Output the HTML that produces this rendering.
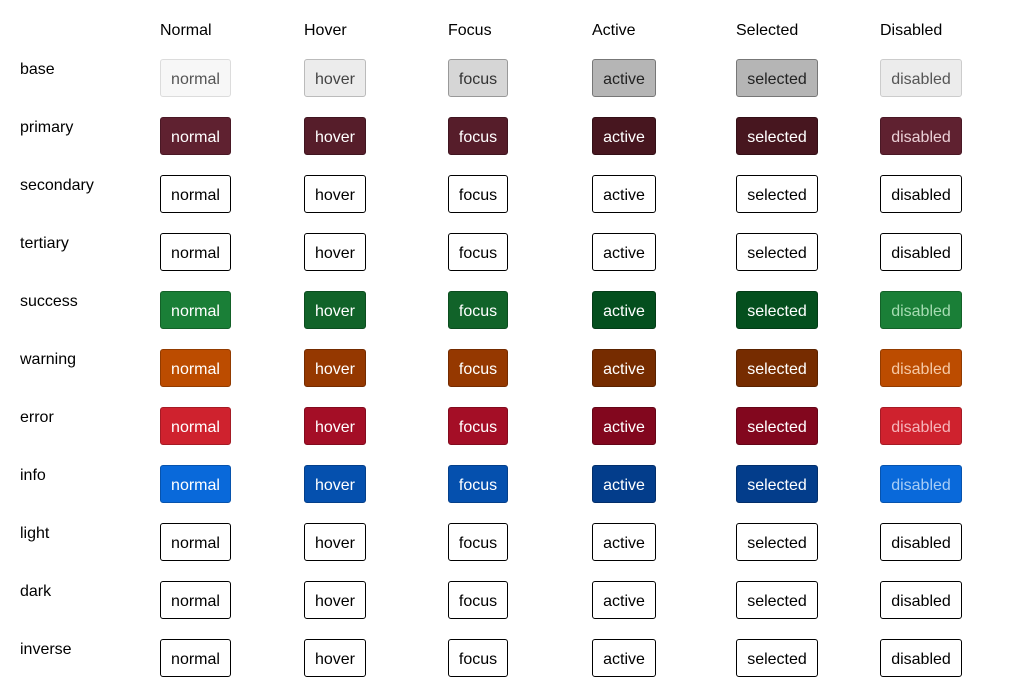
<!DOCTYPE html>
<html><head><meta charset="utf-8"><style>
body{margin:0;width:1024px;height:697px;background:#fff;font-family:"Liberation Sans",sans-serif;font-size:16px;position:relative;overflow:hidden}
.h,.l{position:absolute;color:#000;line-height:18px}
.b{position:absolute;height:38px;box-sizing:border-box;border:1px solid #000;border-radius:3px;line-height:36px;padding-top:2px;text-align:center;background:#fff;color:#000}
</style></head><body>
<div class="h" style="left:160px;top:22px">Normal</div>
<div class="h" style="left:304px;top:22px">Hover</div>
<div class="h" style="left:448px;top:22px">Focus</div>
<div class="h" style="left:592px;top:22px">Active</div>
<div class="h" style="left:736px;top:22px">Selected</div>
<div class="h" style="left:880px;top:22px">Disabled</div>
<script>
const rows=["base","primary","secondary","tertiary","success","warning","error","info","light","dark","inverse"];
const cols=[[160,71,"normal"],[304,62,"hover"],[448,60,"focus"],[592,64,"active"],[736,82,"selected"],[880,82,"disabled"]];
const st={
base:[["#f7f7f7","#dcdcdc","#555"],["#ececec","#bbb","#444"],["#d6d6d6","#999","#333"],["#b5b5b5","#777","#222"],["#b5b5b5","#777","#222"],["#ececec","#ccc","#555"]],
primary:[["#5f2130","#4a1825","#fff"],["#561d2a","#401520","#fff"],["#561d2a","#401520","#fff"],["#47161f","#330f16","#fff"],["#47161f","#330f16","#fff"],["#5f2130","#4a1825","#ead0d6"]],
success:[["#1a7f37","#136128","#fff"],["#116329","#0c4c1f","#fff"],["#116329","#0c4c1f","#fff"],["#044f1e","#033a16","#fff"],["#044f1e","#033a16","#fff"],["#1a7f37","#136128","#a6dcb2"]],
warning:[["#bc4c00","#923b00","#fff"],["#953800","#742b00","#fff"],["#953800","#742b00","#fff"],["#762c00","#5a2200","#fff"],["#762c00","#5a2200","#fff"],["#bc4c00","#923b00","#f5c9a6"]],
error:[["#cf222e","#a51b25","#fff"],["#a40e26","#820b1e","#fff"],["#a40e26","#820b1e","#fff"],["#82071e","#640517","#fff"],["#82071e","#640517","#fff"],["#cf222e","#a51b25","#f5b5ba"]],
info:[["#0969da","#0753ad","#fff"],["#0550ae","#043f8a","#fff"],["#0550ae","#043f8a","#fff"],["#033d8b","#022e6a","#fff"],["#033d8b","#022e6a","#fff"],["#0969da","#0753ad","#a8cdf5"]]
};
let h="";
rows.forEach((r,i)=>{
 const top=59+58*i;
 h+=`<div class="l" style="left:20px;top:${top+2}px">${r}</div>`;
 cols.forEach((c,j)=>{
  let s="";
  if(st[r]){const[bg,bd,fg]=st[r][j];s=`background:${bg};border-color:${bd};color:${fg};`}
  h+=`<div class="b" style="left:${c[0]}px;top:${top}px;width:${c[1]}px;${s}">${c[2]}</div>`;
 });
});
document.write(h);
</script>
</body></html>
